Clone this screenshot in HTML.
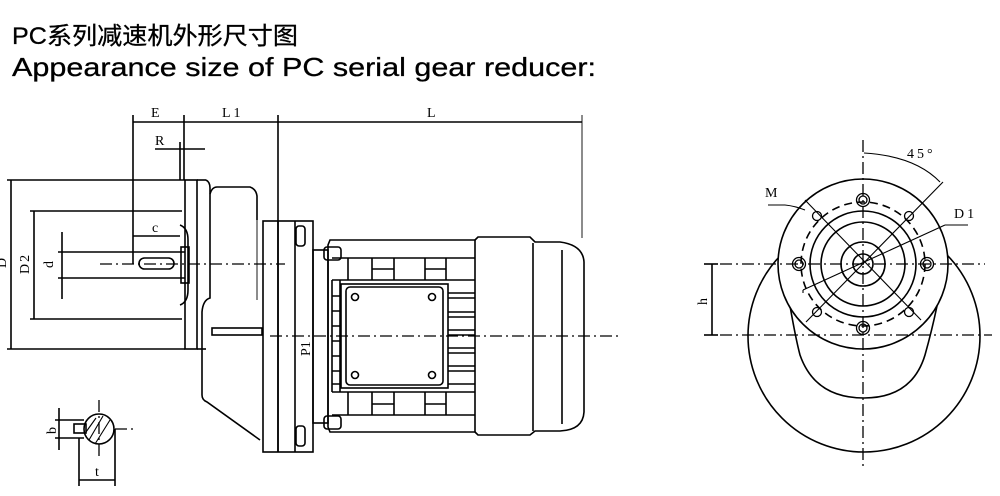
<!DOCTYPE html>
<html><head><meta charset="utf-8"><style>
html,body{margin:0;padding:0;background:#fff;}
svg{display:block}
text{font-family:"Liberation Serif",serif;fill:#000}
.t{font-family:"Liberation Sans","Noto Sans CJK SC",sans-serif}
</style></head><body>
<svg width="1000" height="496" viewBox="0 0 1000 496" xmlns="http://www.w3.org/2000/svg">
<text class="t" x="12" y="44" font-size="24" textLength="286" lengthAdjust="spacingAndGlyphs" stroke="#000" stroke-width="0.3">PC系列减速机外形尺寸图</text>
<text class="t" x="12" y="76" font-size="26" textLength="584" lengthAdjust="spacingAndGlyphs" stroke="#000" stroke-width="0.3">Appearance size of PC serial gear reducer:</text>

<g fill="none" stroke="#000" stroke-width="1.6">
<line x1="133" y1="115" x2="133" y2="264"/>
<line x1="184" y1="115" x2="184" y2="180"/>
<line x1="278" y1="115" x2="278" y2="452"/>
<line x1="582" y1="115" x2="582" y2="238" stroke-width="0.9"/>
<line x1="133" y1="122" x2="582" y2="122"/>
<line x1="155" y1="149" x2="205" y2="149"/>
<line x1="180" y1="142" x2="180" y2="180"/>
<line x1="7" y1="180" x2="185" y2="180"/>
<line x1="7" y1="349" x2="185" y2="349"/>
<line x1="11" y1="180" x2="11" y2="349"/>
<line x1="30" y1="211" x2="182" y2="211"/>
<line x1="30" y1="319" x2="182" y2="319"/>
<line x1="34" y1="211" x2="34" y2="319"/>
<line x1="58" y1="252" x2="185" y2="252"/>
<line x1="58" y1="278" x2="185" y2="278"/>
<line x1="62" y1="232" x2="62" y2="299"/>
<line x1="133" y1="236" x2="180" y2="236"/>
<rect x="139" y="258" width="35" height="11" rx="5.5"/>
<path d="M180 225 Q188 228 188 240 L188 290 Q188 302 180 305"/>
<rect x="181" y="247" width="8" height="36"/>
<rect x="185" y="180" width="12" height="169"/>
<line x1="197" y1="180" x2="206" y2="180"/>
<line x1="197" y1="349" x2="206" y2="349"/>
<path d="M206 180 Q210 182 210 188 L210 298 Q203 300 202 312 L202 395 Q202 400 207 402 L260 440"/>
<path d="M210 194 Q212 187 217 187 L250 187 Q256 189 257 196 L257 220"/>
<rect x="212" y="328" width="50" height="7"/>
<line x1="257" y1="220" x2="257" y2="300" stroke-width="0.9"/>
<rect x="263" y="221" width="50" height="231"/>
<line x1="278" y1="221" x2="278" y2="452"/>
<line x1="295" y1="221" x2="295" y2="452"/>
<rect x="296" y="226" width="9" height="20" rx="3"/>
<rect x="296" y="426" width="9" height="20" rx="3"/>
<rect x="313" y="250" width="15" height="173"/>
<path d="M328 245 L330 240 L475 240 L475 432 L330 432 L328 427 Z"/>
<rect x="324" y="247" width="17" height="13" rx="3"/>
<rect x="324" y="416" width="17" height="13" rx="3"/>
<line x1="332" y1="258" x2="475" y2="258"/>
<line x1="332" y1="280" x2="475" y2="280"/>
<line x1="332" y1="392" x2="475" y2="392"/>
<line x1="332" y1="415" x2="475" y2="415"/>
<line x1="348" y1="258" x2="348" y2="280"/>
<line x1="372" y1="258" x2="372" y2="280"/>
<line x1="394" y1="258" x2="394" y2="280"/>
<line x1="425" y1="258" x2="425" y2="280"/>
<line x1="446" y1="258" x2="446" y2="280"/>
<line x1="372" y1="269" x2="394" y2="269"/>
<line x1="425" y1="269" x2="446" y2="269"/>
<line x1="348" y1="392" x2="348" y2="415"/>
<line x1="372" y1="392" x2="372" y2="415"/>
<line x1="394" y1="392" x2="394" y2="415"/>
<line x1="425" y1="392" x2="425" y2="415"/>
<line x1="446" y1="392" x2="446" y2="415"/>
<line x1="372" y1="404" x2="394" y2="404"/>
<line x1="425" y1="404" x2="446" y2="404"/>
<line x1="332" y1="280" x2="332" y2="392"/>
<line x1="340" y1="280" x2="340" y2="392"/>
<path d="M332 296H340M332 311H340M332 326H340M332 341H340M332 356H340M332 371H340M332 384H340"/>
<path d="M448 293H475M448 298H475M448 312H475M448 317H475M448 330H475M448 335H475M448 348H475M448 353H475M448 366H475M448 371H475M448 384H475"/>
<rect x="341" y="284" width="107" height="104"/>
<rect x="346" y="287" width="97" height="98" rx="4"/>
<circle cx="355" cy="297" r="3.5"/>
<circle cx="432" cy="297" r="3.5"/>
<circle cx="355" cy="375" r="3.5"/>
<circle cx="432" cy="375" r="3.5"/>
<path d="M475 240 L478 237 L530 237 L535 242 L560 242 Q583 245 584 262 L584 412 Q583 430 560 431 L535 431 L530 435 L478 435 L475 432"/>
<line x1="533" y1="243" x2="533" y2="431"/>
<line x1="562" y1="250" x2="562" y2="424"/>
<circle cx="99" cy="429" r="15"/>
<rect x="74" y="424" width="12" height="9"/>
<line x1="55" y1="420" x2="84" y2="420"/>
<line x1="55" y1="438" x2="84" y2="438"/>
<line x1="59" y1="408" x2="59" y2="450"/>
<line x1="79" y1="438" x2="79" y2="486"/>
<line x1="115" y1="429" x2="115" y2="486"/>
<line x1="79" y1="480" x2="115" y2="480"/>
<path d="M89 440 L103 416 M95 444 L110 420 M86 432 L96 418" stroke-width="1.1"/>
<circle cx="864" cy="336" r="116"/>
<path d="M790 306 Q796 340 800 355 Q815 398 864 398 Q912 398 925 355 Q932 330 937 306" fill="#fff"/>
<circle cx="863" cy="264" r="85" fill="#fff"/>
<circle cx="863" cy="264" r="62" stroke-dasharray="8 5"/>
<circle cx="863" cy="264" r="53"/>
<circle cx="863" cy="264" r="42"/>
<circle cx="863" cy="264" r="22"/>
<circle cx="863" cy="264" r="10"/>
<g stroke-width="1.3">
<circle cx="863" cy="200" r="4"/><circle cx="863" cy="200" r="6.5"/>
<circle cx="863" cy="328" r="4"/><circle cx="863" cy="328" r="6.5"/>
<circle cx="799" cy="264" r="4"/><circle cx="799" cy="264" r="6.5"/>
<circle cx="927" cy="264" r="4"/><circle cx="927" cy="264" r="6.5"/>
<circle cx="817" cy="216" r="4.5"/><circle cx="909" cy="216" r="4.5"/>
<circle cx="817" cy="312" r="4.5"/><circle cx="909" cy="312" r="4.5"/>
</g>
<line x1="805" y1="200" x2="921" y2="320" stroke-width="1.1"/>
<line x1="943" y1="182" x2="806" y2="322" stroke-width="1.1"/>
<line x1="768" y1="205" x2="785" y2="205" stroke-width="1.1"/>
<path d="M785 205 Q795 206 805 210" stroke-width="1.1"/>
<line x1="803" y1="290" x2="945" y2="225" stroke-width="1.1"/>
<line x1="945" y1="225" x2="968" y2="225" stroke-width="1.1"/>
<line x1="803" y1="290" x2="803" y2="293" stroke-width="1.1"/>
<path d="M864 153 Q915 156 940 182" stroke-width="1.1"/>
<line x1="704" y1="264" x2="718" y2="264"/>
<line x1="704" y1="335" x2="718" y2="335"/>
<line x1="712" y1="264" x2="712" y2="335"/>
</g>
<g fill="none" stroke="#000" stroke-width="1.3" stroke-dasharray="12 4 2 4">
<line x1="100" y1="264" x2="285" y2="264"/>
<line x1="270" y1="336" x2="618" y2="336"/>
<line x1="863" y1="140" x2="863" y2="466"/>
<line x1="720" y1="264" x2="985" y2="264"/>
<line x1="720" y1="335" x2="992" y2="335"/>
<line x1="99" y1="400" x2="99" y2="460"/>
<line x1="115" y1="429" x2="135" y2="429"/>
</g>
<g font-size="14">
<text x="151" y="117">E</text>
<text x="222" y="117" letter-spacing="3">L1</text>
<text x="427" y="117">L</text>
<text x="155" y="145">R</text>
<text x="152" y="232">c</text>
<text x="95" y="476">t</text>
<text x="907" y="158" letter-spacing="3">45°</text>
<text x="765" y="197">M</text>
<text x="954" y="218" letter-spacing="3">D1</text>
<text transform="translate(6,268) rotate(-90)">D</text>
<text transform="translate(29,274) rotate(-90)" letter-spacing="2">D2</text>
<text transform="translate(53,268) rotate(-90)">d</text>
<text transform="translate(56,434) rotate(-90)">b</text>
<text transform="translate(310,356) rotate(-90)">P1</text>
<text transform="translate(707,305) rotate(-90)">h</text>
</g>
</svg>
</body></html>
